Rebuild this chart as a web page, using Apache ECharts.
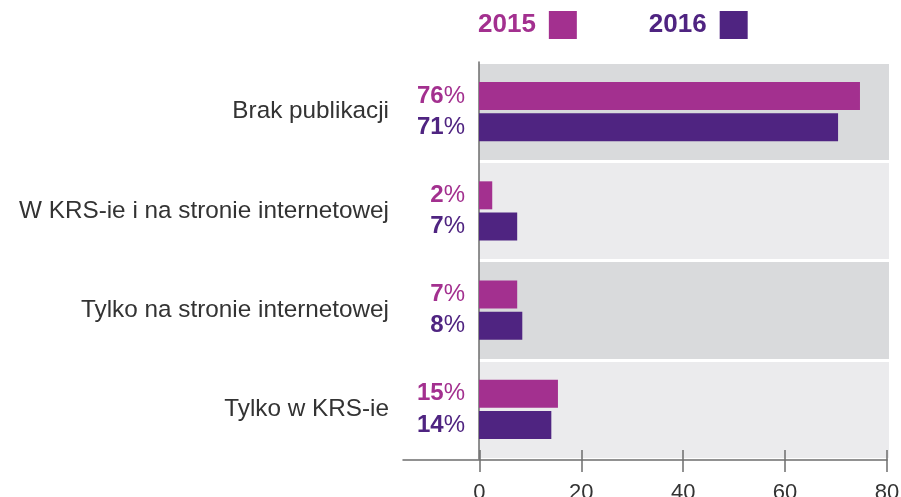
<!DOCTYPE html>
<html>
<head>
<meta charset="utf-8">
<script src="https://cdn.jsdelivr.net/npm/echarts@6/dist/echarts.min.js"></script>
<style>html,body{margin:0;padding:0;background:#fff}#c{width:901px;height:497px}</style>
</head>
<body>
<div id="c"></div>
<script>
var categories = ['Brak publikacji', 'W KRS-ie i na stronie internetowej', 'Tylko na stronie internetowej', 'Tylko w KRS-ie'];
var seriesNames = ['2015', '2016'];
// bar lengths as drawn in the picture
var values2015 = [74.8, 2.6, 7.5, 15.5];
var values2016 = [70.5, 7.5, 8.5, 14.2];
// printed labels (%)
var labels2015 = [76, 2, 7, 15];
var labels2016 = [71, 7, 8, 14];
var tickValues = [0, 20, 40, 60, 80];

var C15 = '#a3308f', C16 = '#4f2481', AX = '#6d6d6d', FONT = 'Liberation Sans';

function makeLabel(lbls, color) {
  return {
    show: true, position: 'left', distance: 14,
    formatter: function (p) { return '{d|' + lbls[p.dataIndex] + '}{p|%}'; },
    rich: {
      d: { fontSize: 24, fontWeight: 'bold', color: color, fontFamily: FONT },
      p: { fontSize: 24, fontWeight: 'normal', color: color, fontFamily: FONT }
    }
  };
}

var chart = echarts.init(document.getElementById('c'), null, { renderer: 'canvas' });
chart.setOption({
  animation: false,
  textStyle: { fontFamily: FONT },
  legend: {
    left: 478, top: 11, padding: 0, align: 'right', icon: 'rect',
    itemWidth: 28, itemHeight: 28, itemGap: 72,
    textStyle: { fontSize: 26, fontWeight: 'bold', fontFamily: FONT, padding: [0, 8, 0, 0] },
    data: [
      { name: seriesNames[0], textStyle: { color: C15 } },
      { name: seriesNames[1], textStyle: { color: C16 } }
    ]
  },
  grid: [
    { left: 479, right: 12, top: 62, bottom: 38, outerBoundsMode: 'none', containLabel: false },
    { left: 403, right: 14, top: 400, bottom: 37, outerBoundsMode: 'none', containLabel: false }
  ],
  xAxis: [
    { gridIndex: 0, type: 'value', min: 0, max: 80.5, show: false, splitLine: { show: false } },
    { gridIndex: 1, type: 'value', min: -15, max: 80, position: 'bottom',
      axisLine: { show: true, lineStyle: { color: AX, width: 1.5 } },
      axisTick: { show: true, length: 12, customValues: tickValues, lineStyle: { color: AX, width: 1.5 } },
      axisLabel: { show: true, customValues: tickValues, fontSize: 22, color: '#333', margin: 22, fontFamily: FONT },
      splitLine: { show: false } },
    { gridIndex: 1, type: 'value', min: -15, max: 80, position: 'bottom',
      axisLine: { show: false },
      axisTick: { show: true, inside: true, length: 10, customValues: tickValues, lineStyle: { color: AX, width: 1.5 } },
      axisLabel: { show: false },
      splitLine: { show: false } }
  ],
  yAxis: [
    { gridIndex: 0, type: 'category', inverse: true, data: categories,
      axisLine: { show: true, lineStyle: { color: AX, width: 1.5 } },
      axisTick: { show: false },
      axisLabel: { fontSize: 24.3, color: '#333', margin: 90, fontFamily: FONT },
      splitArea: { show: true, areaStyle: { color: ['#d9dadc', '#ebebed'] } },
      splitLine: { show: true, lineStyle: { color: '#fff', width: 3 } }
    },
    { gridIndex: 1, type: 'value', show: false }
  ],
  series: [
    { name: seriesNames[0], type: 'bar', xAxisIndex: 0, yAxisIndex: 0, data: values2015,
      barWidth: 28, barGap: '11%', itemStyle: { color: C15 }, label: makeLabel(labels2015, C15) },
    { name: seriesNames[1], type: 'bar', xAxisIndex: 0, yAxisIndex: 0, data: values2016,
      barWidth: 28, barGap: '11%', itemStyle: { color: C16 }, label: makeLabel(labels2016, C16) }
  ]
});
</script>
</body>
</html>
